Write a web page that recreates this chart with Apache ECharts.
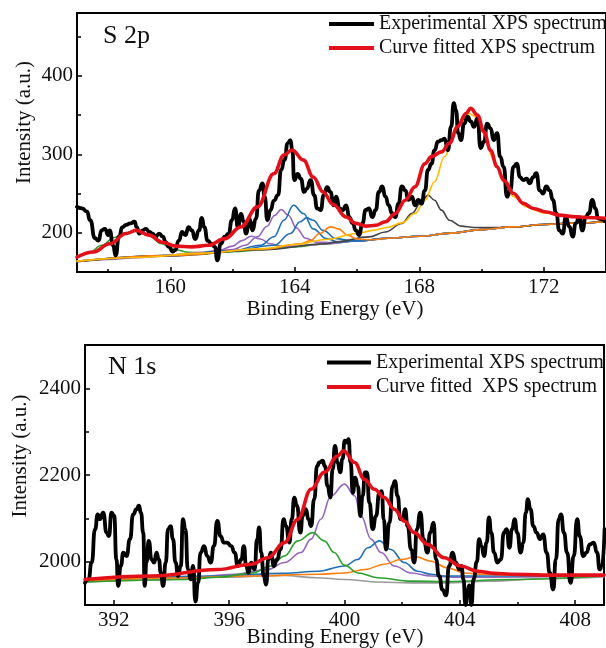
<!DOCTYPE html>
<html>
<head>
<meta charset="utf-8">
<title>XPS S 2p and N 1s spectra</title>
<script src="https://cdn.jsdelivr.net/npm/echarts@6/dist/echarts.min.js"></script>
<style>
  html, body { margin: 0; padding: 0; background: #fff; }
  #chart { width: 606px; height: 648px; }
</style>
</head>
<body>
<div id="chart"></div>
<script>
// ---------- S 2p region: [binding energy (eV), intensity (a.u.)] ----------
const s2pExperimental = [
  [157.00,233],[157.16,231],[157.32,227],[157.42,216],[157.58,193],[157.69,190],[157.79,203],[157.90,205],
  [158.00,197],[158.05,203],[158.16,184],[158.24,171],[158.35,195],[158.46,207],[158.58,210],[158.71,212],
  [158.85,214],[158.92,207],[159.00,199],[159.11,203],[159.22,205],[159.32,201],[159.43,199],[159.53,195],
  [159.64,199],[159.76,195],[159.85,188],[159.95,182],[160.08,176],[160.16,178],[160.27,190],[160.38,201],
  [160.48,197],[160.59,207],[160.69,203],[160.80,192],[160.92,203],[161.01,219],[161.09,207],[161.20,190],
  [161.32,186],[161.43,182],[161.51,165],[161.62,186],[161.75,195],[161.87,199],[161.98,216],[162.08,231],
  [162.17,207],[162.27,224],[162.36,214],[162.43,199],[162.54,218],[162.64,203],[162.75,218],[162.85,254],
  [162.96,263],[163.03,246],[163.12,216],[163.22,229],[163.33,241],[163.46,248],[163.56,280],[163.67,293],
  [163.77,314],[163.86,318],[163.92,305],[163.98,267],[164.09,275],[164.19,269],[164.30,252],[164.38,256],
  [164.51,267],[164.62,248],[164.72,231],[164.83,229],[164.93,248],[165.04,258],[165.14,252],[165.25,235],
  [165.33,246],[165.44,231],[165.54,229],[165.65,235],[165.75,220],[165.86,212],[165.96,203],[166.07,197],
  [166.17,212],[166.28,229],[166.38,231],[166.49,220],[166.60,229],[166.70,252],[166.81,259],[166.91,246],
  [167.02,235],[167.12,225],[167.23,220],[167.33,237],[167.44,259],[167.55,254],[167.65,242],[167.76,246],
  [167.86,235],[167.97,242],[168.07,237],[168.18,254],[168.28,280],[168.39,288],[168.49,305],[168.60,316],
  [168.71,318],[168.81,320],[168.92,305],[169.02,335],[169.11,365],[169.18,356],[169.25,327],[169.34,318],
  [169.44,339],[169.55,348],[169.65,342],[169.76,335],[169.87,346],[169.97,308],[170.08,316],[170.18,339],
  [170.29,333],[170.39,318],[170.50,327],[170.60,297],[170.71,284],[170.82,246],[170.92,254],[171.03,284],
  [171.13,288],[171.24,271],[171.34,267],[171.45,269],[171.55,263],[171.66,271],[171.76,276],[171.87,254],
  [171.98,250],[172.08,259],[172.19,254],[172.29,242],[172.40,225],[172.50,203],[172.61,199],[172.71,220],
  [172.82,208],[172.93,195],[173.03,212],[173.14,220],[173.24,203],[173.35,220],[173.45,225],[173.56,242],
  [173.66,231],[173.75,218],[174.00,214]
];
const s2pFit = [
  [157.00,169],[157.53,175.5],[158.05,186],[158.58,199],[158.90,203],[159.32,197],[159.74,188],[160.16,183],
  [160.69,182],[161.22,184],[161.75,192.5],[162.27,207.5],[162.80,233],[163.33,275.5],[163.65,299],[163.91,305.5],
  [164.28,292.5],[164.59,271],[164.91,252],[165.23,236],[165.65,220],[165.96,212],[166.28,208.5],[166.60,209.5],
  [166.91,214],[167.23,224.5],[167.55,241.5],[167.86,258.5],[168.18,288],[168.39,297],[168.71,303],[168.97,314],
  [169.23,335],[169.50,352],[169.65,358.5],[169.87,350],[170.08,328.5],[170.29,305],[170.50,284],[170.71,267],
  [171.03,250],[171.34,237.5],[171.66,231],[172.08,226.5],[172.50,222.5],[172.93,220.5],[173.35,219.5],[174.00,218.5]
];
const s2pGreen = [
  [157.0,169],[157.4,175],[157.8,184],[158.2,194],[158.5,199.5],[158.9,202],[159.3,196.5],[159.7,186.5],
  [160.1,179],[160.6,175],[161.2,174],[162,176],[163,178.5],[164,182],[165,186],[166,189.5],[167,193],
  [168,195.5],[169,199.5],[170,204],[171,207.5],[172,210.5],[173,212.5],[174,214]
];
const s2pPurpleA = [
  [157,164],[158,166],[159,168.5],[160,171.5],[161,175],[161.6,178],[162.0,183],[162.3,190],[162.6,195.5],
  [162.9,192],[163.2,186],[163.6,182.5],[164.0,183],[164.5,184.5],[165,186],[166,189.5],[167,193],[168,195.5],
  [169,199.5],[170,204],[171,207.5],[172,210.5],[173,212.5],[174,214]
];
const s2pPurpleB = [
  [157,163.5],[159,168.5],[161,174],[162,178.5],[162.4,184],[162.8,195],[163.1,208],[163.35,222],[163.56,229.6],
  [163.8,222],[164.05,206],[164.35,193],[164.7,188],[165.2,187.5],[166,189.5],[167,193],[168,195.5],[169,199.5],
  [170,204],[171,207.5],[172,210.5],[173,212.5],[174,214]
];
const s2pBlueA = [
  [157,163.5],[160,171],[162,177],[162.9,184],[163.33,195],[163.65,216],[163.96,235],[164.28,224.5],[164.59,205],
  [165.02,192.5],[165.4,188.5],[166,189.5],[167,193],[168,195.5],[169,199.5],[170,204],[171,207.5],[172,210.5],
  [173,212.5],[174,214]
];
const s2pBlueB = [
  [157,163.5],[160,171],[162,177],[163.33,184],[163.86,199],[164.17,214],[164.38,219],[164.59,216],[164.91,203],
  [165.33,192.5],[165.8,190],[166.5,191],[167,193],[168,195.5],[169,199.5],[170,204],[171,207.5],[172,210.5],
  [173,212.5],[174,214]
];
const s2pOrange = [
  [157,163.5],[160,171],[163,179],[164.2,186],[164.5,190],[164.8,199],[165.15,207.5],[165.4,205],[165.7,197],
  [166.0,192],[166.5,191],[167,193],[168,195.5],[169,199.5],[170,204],[171,207.5],[172,210.5],[173,212.5],[174,214]
];
const s2pGray = [
  [157,163],[160,170.5],[163,178.5],[165,186],[165.33,188.4],[166.38,194.7],[166.91,201],[167.44,211.8],
  [167.76,224.5],[168.07,239.4],[168.28,248],[168.49,241.5],[168.71,228.8],[168.97,216],[169.34,208.4],
  [169.76,206.7],[170.5,206.5],[171,207.5],[172,210.5],[173,212.5],[174,214]
];
const s2pYellow = [
  [157,164],[159,168.5],[161,174],[163,180],[164,185],[165,191.5],[166,199],[166.5,203],[167,207],[167.44,212.6],
  [167.86,224.5],[168.18,241.5],[168.49,265],[168.81,296.8],[169.13,328.7],[169.39,345.7],[169.6,352],
  [169.81,347.9],[170.08,326.6],[170.39,292.6],[170.71,265],[171.03,245.8],[171.45,233],[171.98,225.4],
  [172.71,221],[174.0,217.5]
];

// ---------- N 1s region ----------
const n1sExperimental = [
  [391.00,1951],[391.12,1959],[391.23,1998],[391.35,2075],[391.44,2109],[391.52,2098],[391.63,2113],[391.75,2067],
  [391.83,2059],[391.92,2113],[392.01,2106],[392.09,2005],[392.15,1944],[392.24,1990],[392.33,2021],[392.44,2013],
  [392.56,2052],[392.67,2109],[392.79,2121],[392.87,2129],[392.94,2113],[393.02,2067],[393.07,1944],[393.13,1998],
  [393.21,2048],[393.31,2005],[393.40,1998],[393.48,2021],[393.56,2005],[393.63,1974],[393.71,1944],[393.80,1998],
  [393.88,2075],[393.97,2082],[394.05,2052],[394.14,1998],[394.23,1967],[394.32,1990],[394.40,2098],[394.48,2075],
  [394.57,1982],[394.67,1959],[394.75,1990],[394.83,1908],[394.92,1951],[395.01,2021],[395.13,2036],[395.24,2013],
  [395.36,1998],[395.47,2036],[395.59,2094],[395.70,2059],[395.82,2044],[395.93,2044],[396.07,2036],[396.19,2021],
  [396.30,1990],[396.42,2005],[396.51,2036],[396.59,1990],[396.67,1974],[396.76,1998],[396.88,1982],[396.97,2052],
  [397.04,2079],[397.11,2021],[397.20,1967],[397.28,1947],[397.36,2005],[397.45,2021],[397.55,1990],[397.66,2005],
  [397.78,2028],[397.89,2098],[397.97,2082],[398.09,2044],[398.17,2098],[398.26,2148],[398.35,2129],[398.47,2067],
  [398.55,2106],[398.66,2121],[398.75,2098],[398.84,2082],[398.95,2144],[399.05,2221],[399.13,2229],[399.24,2233],
  [399.32,2221],[399.41,2175],[399.51,2148],[399.59,2213],[399.67,2267],[399.76,2229],[399.85,2206],[399.93,2237],
  [400.01,2279],[400.09,2275],[400.14,2283],[400.21,2229],[400.29,2159],[400.37,2194],[400.46,2175],[400.55,2105],
  [400.63,2152],[400.71,2206],[400.78,2206],[400.86,2136],[400.98,2075],[401.09,2105],[401.21,2159],[401.29,2163],
  [401.36,2098],[401.44,2028],[401.56,2090],[401.67,2175],[401.75,2186],[401.84,2152],[401.94,2098],[402.02,2098],
  [402.10,2121],[402.19,2082],[402.31,2028],[402.42,1998],[402.51,2075],[402.63,2113],[402.74,2052],[402.88,2021],
  [402.97,2067],[403.09,2090],[403.17,2005],[403.28,1967],[403.40,1935],[403.52,1922],[403.63,1990],[403.75,2021],
  [403.86,1998],[403.98,1982],[404.06,1990],[404.12,1960],[404.20,1900],[404.27,1935],[404.33,1945],[404.40,1900],
  [404.48,1960],[404.59,2000],[404.67,2052],[404.75,2036],[404.84,2013],[404.93,2044],[405.01,2102],[405.09,2067],
  [405.19,2021],[405.30,1998],[405.42,2005],[405.53,2067],[405.62,2075],[405.72,2032],[405.81,2075],[405.90,2098],
  [405.99,2067],[406.11,2021],[406.20,2044],[406.29,2113],[406.36,2144],[406.45,2121],[406.55,2082],[406.66,2067],
  [406.78,2052],[406.89,2063],[407.01,2021],[407.12,1974],[407.24,1936],[407.33,2005],[407.43,2098],[407.51,2109],
  [407.61,2067],[407.72,2021],[407.84,1951],[407.95,2013],[408.07,2098],[408.16,2059],[408.28,2013],[408.39,2021],
  [408.51,2040],[408.64,2044],[408.76,2021],[408.85,1982],[408.93,1990],[409.02,2075]
];
const n1sFit = [
  [391.00,1959],[393.31,1967],[395.61,1982],[396.76,1994],[397.34,2009],[397.92,2044],[398.38,2098],[398.84,2167],
  [399.30,2206],[399.76,2244],[399.97,2256],[400.35,2229],[400.69,2190],[401.04,2167],[401.38,2148],[401.73,2121],
  [402.07,2094],[402.42,2067],[402.88,2040],[403.46,2009],[404.03,1990],[404.61,1978],[405.19,1973],[405.76,1971],
  [406.92,1969],[409.00,1969]
];
const n1sGray = [
  [391,1953],[393,1957],[395.6,1964],[397.9,1968],[399,1963],[400,1959],[401.2,1953],[402.3,1951],[403.5,1951],
  [405,1955],[407,1961],[409,1965]
];
const n1sGreen = [
  [391,1953],[394.5,1959],[395.6,1964],[396.8,1974],[397.45,1990],[397.92,2013],[398.38,2048],[398.9,2067],
  [399.3,2048],[399.64,2021],[400.0,1992],[400.46,1974],[401.15,1963],[402.3,1955],[403.5,1954],[405.8,1959],[409,1967]
];
const n1sPurple = [
  [391,1955],[394.5,1963],[396.2,1971],[397.34,1982],[397.92,1998],[398.49,2021],[398.84,2052],[399.18,2098],
  [399.53,2152],[400.0,2179],[400.35,2152],[400.58,2105],[400.92,2052],[401.27,2021],[401.73,1990],[402.3,1974],
  [403,1967],[404,1964],[409,1967]
];
const n1sBlue = [
  [391,1955],[395.6,1967],[397.9,1973],[399.1,1978],[400.0,1990],[400.46,2005],[400.81,2032],[401.21,2048],
  [401.61,2028],[402.07,1998],[402.53,1978],[403.0,1971],[403.46,1967],[405,1967],[409,1968]
];
const n1sOrange = [
  [391,1955],[394,1962],[396.76,1967],[399.1,1971],[400.0,1974],[400.7,1982],[401.38,1994],[401.96,2005],
  [402.48,2011],[403.0,2001],[403.57,1986],[404.15,1974],[404.84,1971],[405.76,1969],[409,1968]
];

// ---------- axis ticks and labels ----------
const s2pXLabels = [160, 164, 168, 172];
const s2pXMinor = [158, 162, 166, 170, 174];
const s2pYLabels = [200, 300, 400];
const s2pYMinor = [250, 350, 450];
const n1sXLabels = [392, 396, 400, 404, 408];
const n1sXMinor = [394, 398, 402, 406];
const n1sYLabels = [2000, 2200, 2400];
const n1sYMinor = [2100, 2300];

const legendExp = 'Experimental XPS spectrum';
const legendFitTop = 'Curve fitted XPS spectrum';
const legendFitBottom = 'Curve fitted  XPS spectrum';

// ---------- styling ----------
const FONT = '"Liberation Serif", "Times New Roman", serif';
const INK = '#111';
const C = {
  exp: '#000000', fit: '#e3101a', green: '#2ca02c', purple: '#9467bd',
  blue: '#1f6fb4', orange: '#ff7f0e', gray: '#444444', grayLight: '#9a9a9a', yellow: '#ffbb00'
};
const plainNumber = v => String(v);

function mainX(grid, min, max, labels) {
  return {
    type: 'value', gridIndex: grid, min: min, max: max, position: 'bottom',
    axisLine: { show: true, onZero: false, lineStyle: { color: '#000', width: 2 } },
    axisTick: { show: true, inside: true, length: 5, customValues: labels, lineStyle: { color: '#000', width: 1.5 } },
    axisLabel: { show: true, customValues: labels, formatter: plainNumber, margin: 5, color: INK, fontFamily: FONT, fontSize: 21 },
    splitLine: { show: false }
  };
}
function minorX(grid, min, max, ticks) {
  return {
    type: 'value', gridIndex: grid, min: min, max: max, position: 'bottom', offset: 0,
    axisLine: { show: false, onZero: false },
    axisTick: { show: true, inside: true, length: 3, customValues: ticks, lineStyle: { color: '#000', width: 1.5 } },
    axisLabel: { show: false }, splitLine: { show: false }
  };
}
function mainY(grid, min, max, labels) {
  return {
    type: 'value', gridIndex: grid, min: min, max: max, position: 'left',
    axisLine: { show: true, onZero: false, lineStyle: { color: '#000', width: 2 } },
    axisTick: { show: true, inside: true, length: 5, customValues: labels, lineStyle: { color: '#000', width: 1.5 } },
    axisLabel: { show: true, customValues: labels, formatter: plainNumber, margin: 4, color: INK, fontFamily: FONT, fontSize: 21 },
    splitLine: { show: false }
  };
}
function minorY(grid, min, max, ticks) {
  return {
    type: 'value', gridIndex: grid, min: min, max: max, position: 'left', offset: 0,
    axisLine: { show: false, onZero: false },
    axisTick: { show: true, inside: true, length: 4, customValues: ticks, lineStyle: { color: '#000', width: 1.5 } },
    axisLabel: { show: false }, splitLine: { show: false }
  };
}

function curve(name, data, axis, color, width, z, smooth) {
  return {
    name: name, type: 'line', data: data, xAxisIndex: axis, yAxisIndex: axis,
    showSymbol: false, symbol: 'none', smooth: smooth, smoothMonotone: 'x',
    lineStyle: { color: color, width: width, join: 'round', cap: 'round' },
    itemStyle: { color: color }, z: z, silent: true, animation: false, clip: true
  };
}

const option = {
  backgroundColor: '#ffffff',
  animation: false,
  grid: [
    { left: 77, top: 13, width: 536, height: 259, show: true, borderColor: '#000', borderWidth: 2, backgroundColor: 'transparent' },
    { left: 85, top: 345, width: 519, height: 260, show: true, borderColor: '#000', borderWidth: 2, backgroundColor: 'transparent' }
  ],
  xAxis: [
    mainX(0, 157, 174, s2pXLabels),
    mainX(1, 391, 409, n1sXLabels),
    minorX(0, 157, 174, s2pXMinor),
    minorX(1, 391, 409, n1sXMinor)
  ],
  yAxis: [
    mainY(0, 150, 480, s2pYLabels),
    mainY(1, 1900, 2500, n1sYLabels),
    minorY(0, 150, 480, s2pYMinor),
    minorY(1, 1900, 2500, n1sYMinor)
  ],
  legend: [
    {
      data: [legendExp, legendFitTop], left: 329, top: 14, orient: 'vertical', padding: 0,
      itemWidth: 45, itemHeight: 4, itemGap: 4, icon: 'rect', selectedMode: false,
      textStyle: { fontFamily: FONT, fontSize: 20, color: INK }
    },
    {
      data: [legendExp, legendFitBottom], left: 327, top: 352.5, orient: 'vertical', padding: 0,
      itemWidth: 44, itemHeight: 4, itemGap: 4.6, icon: 'rect', selectedMode: false,
      textStyle: { fontFamily: FONT, fontSize: 20, color: INK }
    }
  ],
  graphic: [
    { type: 'text', x: 103, y: 36, style: { text: 'S 2p', font: '26px ' + FONT, fill: INK, verticalAlign: 'middle' } },
    { type: 'text', x: 108, y: 367, style: { text: 'N 1s', font: '26px ' + FONT, fill: INK, verticalAlign: 'middle' } },
    { type: 'text', x: 335, y: 309, style: { text: 'Binding Energy (eV)', font: '21px ' + FONT, fill: INK, align: 'center', verticalAlign: 'middle' } },
    { type: 'text', x: 335, y: 637.5, style: { text: 'Binding Energy (eV)', font: '21px ' + FONT, fill: INK, align: 'center', verticalAlign: 'middle' } },
    { type: 'text', x: 24, y: 122.5, rotation: Math.PI / 2, style: { text: 'Intensity (a.u.)', font: '21px ' + FONT, fill: INK, align: 'center', verticalAlign: 'middle' } },
    { type: 'text', x: 20, y: 456, rotation: Math.PI / 2, style: { text: 'Intensity (a.u.)', font: '21px ' + FONT, fill: INK, align: 'center', verticalAlign: 'middle' } }
  ],
  series: [
    // S 2p fitted components
    curve('S2p component 1', s2pGreen, 0, C.green, 1.6, 3, 0.4),
    curve('S2p component 2', s2pPurpleA, 0, C.purple, 1.6, 3, 0.4),
    curve('S2p component 3', s2pPurpleB, 0, C.purple, 1.6, 3, 0.4),
    curve('S2p component 4', s2pBlueA, 0, C.blue, 1.6, 3, 0.4),
    curve('S2p component 5', s2pBlueB, 0, C.blue, 1.6, 3, 0.4),
    curve('S2p component 6', s2pGray, 0, C.gray, 1.6, 3, 0.4),
    curve('S2p component 7', s2pOrange, 0, C.orange, 1.6, 3, 0.4),
    curve('S2p component 8', s2pYellow, 0, C.yellow, 1.6, 3, 0.4),
    curve(legendExp, s2pExperimental, 0, C.exp, 3.8, 4, 0.6),
    curve(legendFitTop, s2pFit, 0, C.fit, 3.6, 5, 0.4),
    // N 1s fitted components
    curve('N1s component 1', n1sGray, 1, C.grayLight, 1.6, 3, 0.4),
    curve('N1s component 2', n1sPurple, 1, C.purple, 1.6, 3, 0.4),
    curve('N1s component 3', n1sBlue, 1, C.blue, 1.6, 3, 0.4),
    curve('N1s component 4', n1sOrange, 1, C.orange, 1.6, 3, 0.4),
    curve('N1s component 5', n1sGreen, 1, C.green, 1.6, 3, 0.4),
    curve(legendExp, n1sExperimental, 1, C.exp, 3.8, 4, 0.6),
    curve(legendFitBottom, n1sFit, 1, C.fit, 3.6, 5, 0.4)
  ]
};

const chart = echarts.init(document.getElementById('chart'), null, { renderer: 'canvas', width: 606, height: 648 });
chart.setOption(option);
</script>
</body>
</html>
